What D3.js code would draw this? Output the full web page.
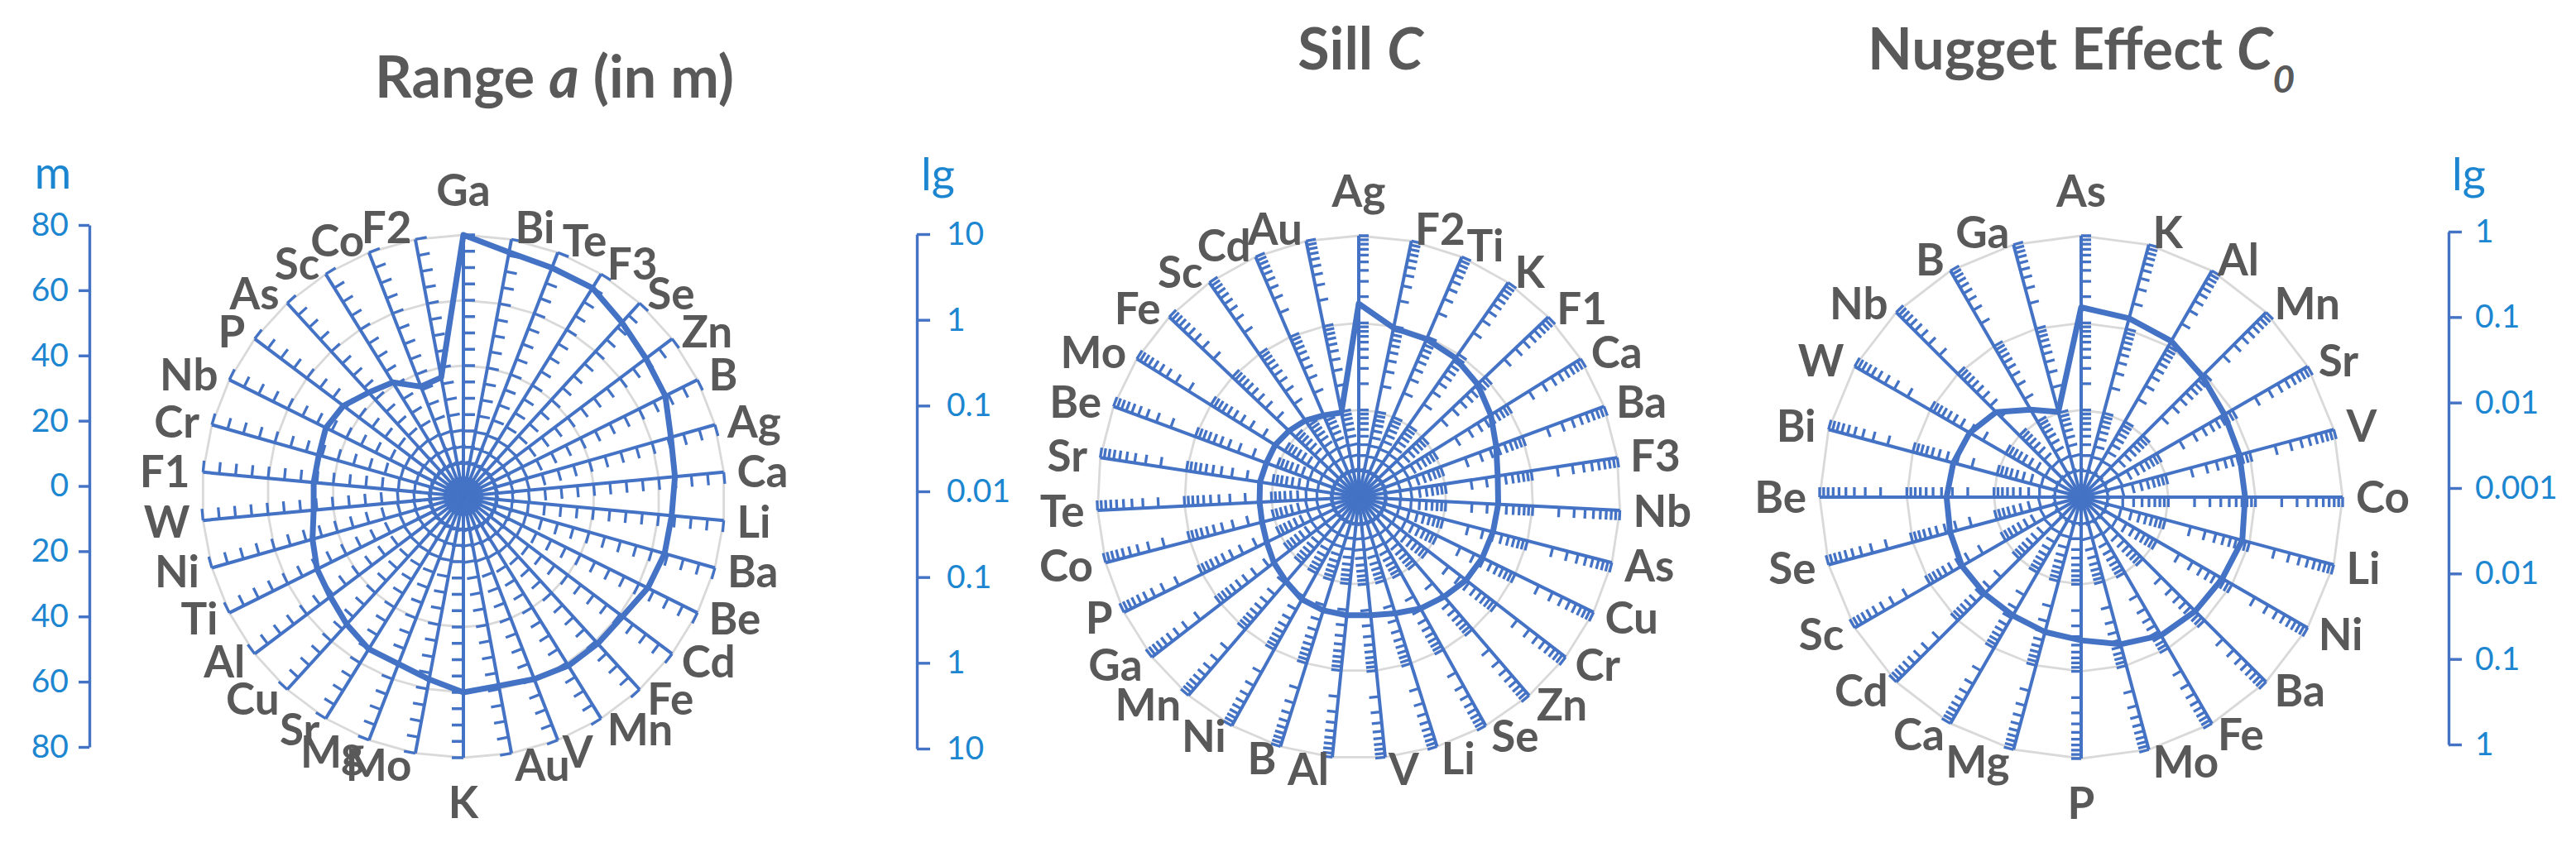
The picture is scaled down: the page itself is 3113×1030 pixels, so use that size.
<!DOCTYPE html>
<html><head><meta charset="utf-8">
<script src="https://cdn.jsdelivr.net/npm/d3@7"></script>
<style>body{margin:0;background:#fff}svg{display:block}</style>
</head><body><svg id="c" width="3113" height="1030"></svg>
<script>
// ---------- DATA ----------
const rangeCats = ["Ga","Bi","Te","F3","Se","Zn","B","Ag","Ca","Li","Ba","Be","Cd","Fe","Mn","V","Au","K","Mo","Mg","Sr","Cu","Al","Ti","Ni","W","F1","Cr","Nb","P","As","Sc","Co","F2"];
const rangeVals = [80,76,75,75,72,70,69,66,65,64,64,63,61,61,61,60,59,60,57,55,55,53,51,50,48,46,46,46,47,46,43,41,36,37];
const rangeAxisLabels = ["80","60","40","20","0","20","40","60","80"];

const sillCats = ["Ag","F2","Ti","K","F1","Ca","Ba","F3","Nb","As","Cu","Cr","Zn","Se","Li","V","Al","B","Ni","Mn","Ga","P","Co","Te","Sr","Be","Mo","Fe","Sc","Cd","Au"];
const sillVals = [1.66,0.96,0.94,0.88,0.76,0.61,0.48,0.41,0.40,0.39,0.38,0.36,0.32,0.29,0.25,0.23,0.23,0.23,0.22,0.19,0.17,0.15,0.14,0.138,0.14,0.135,0.135,0.127,0.118,0.105,0.098];
const sillAxisLabels = ["10","1","0.1","0.01","0.1","1","10"];

const nuggetCats = ["As","K","Al","Mn","Sr","V","Co","Li","Ni","Ba","Fe","Mo","P","Mg","Ca","Cd","Sc","Se","Be","Bi","W","Nb","B","Ga"];
const nuggetVals = [0.151,0.133,0.117,0.092,0.079,0.076,0.076,0.082,0.074,0.071,0.068,0.056,0.044,0.040,0.037,0.037,0.038,0.036,0.035,0.033,0.030,0.024,0.0144,0.0103];
const nuggetAxisLabels = ["1","0.1","0.01","0.001","0.01","0.1","1"];

// ---------- STYLE ----------
const W = 3113, H = 1030;
const BLUE = "#4472C4", GRID = "#D9D9D9", TEXT = "#595959", AXTXT = "#1D86D0";
const FONT = "Lato, 'Open Sans', sans-serif";
const R = 316;

const svg = d3.select("#c");
svg.append("rect").attr("width", W).attr("height", H).attr("fill", "#fff");

function radar(cfg) {
  const g = svg.append("g").attr("transform", `translate(${cfg.cx},${cfg.cy})`);
  const n = cfg.cats.length;
  const ang = d3.scaleLinear().domain([0, n]).range([0, 2 * Math.PI]);
  const r = cfg.scale;
  const pt = (i, rad) => [rad * Math.sin(ang(i)), -rad * Math.cos(ang(i))];

  // gridlines (polygons)
  cfg.grid.forEach(v => {
    g.append("path")
      .attr("d", d3.line()(d3.range(n).map(i => pt(i, r(v)))) + "Z")
      .attr("fill", "none").attr("stroke", GRID).attr("stroke-width", 2.8);
  });

  // spokes
  g.append("g").selectAll("line").data(d3.range(n)).join("line")
    .attr("x1", 0).attr("y1", 0)
    .attr("x2", i => pt(i, R)[0]).attr("y2", i => pt(i, R)[1])
    .attr("stroke", BLUE).attr("stroke-width", 4);

  // ticks on every spoke (clockwise side)
  const L = cfg.tickLen;
  let d = "";
  d3.range(n).forEach(i => {
    const a = ang(i), tx = Math.cos(a), ty = Math.sin(a);
    cfg.ticks.forEach(t => {
      const [x, y] = pt(i, r(t));
      d += `M${x.toFixed(2)},${y.toFixed(2)}L${(x + L * tx).toFixed(2)},${(y + L * ty).toFixed(2)}`;
    });
  });
  g.append("path").attr("d", d).attr("stroke", BLUE).attr("stroke-width", 3.3).attr("fill", "none");

  // data line
  g.append("path")
    .attr("d", d3.line()(cfg.vals.map((v, i) => pt(i, r(v)))) + "Z")
    .attr("fill", "none").attr("stroke", BLUE).attr("stroke-width", 7)
    .attr("stroke-linejoin", "round");

  // category labels (Excel-like placement next to spoke ends)
  const fs = 53;
  cfg.cats.forEach((c, i) => {
    const a = ang(i), s = Math.sin(a), co = Math.cos(a);
    const [px, py] = pt(i, R);
    const t = g.append("text").text(c)
      .attr("font-family", FONT).attr("font-size", fs).attr("font-weight", 700)
      .attr("fill", TEXT).attr("dy", "0.36em");
    if (Math.abs(s) < 0.02) {
      t.attr("text-anchor", "middle").attr("x", px).attr("y", py - co * 54);
    } else {
      const gx = 4 + 12 * s * s;
      t.attr("text-anchor", s > 0 ? "start" : "end")
        .attr("x", px + (s > 0 ? gx : -gx)).attr("y", py - co * 15);
    }
  });
}

radar({cx: 560, cy: 600, cats: rangeCats, vals: rangeVals,
  scale: d3.scaleLinear().domain([0, 80]).range([0, R]),
  grid: [20, 40, 60, 80], ticks: d3.range(5, 81, 5), tickLen: 14});

const sillScale = d3.scaleLog().domain([0.01, 10]).range([0, R]);
radar({cx: 1642, cy: 601, cats: sillCats, vals: sillVals, scale: sillScale,
  grid: [0.1, 1, 10], ticks: sillScale.ticks().filter(t => t > 0.0100001), tickLen: 12});

const nugScale = d3.scaleLog().domain([0.001, 1]).range([0, R]);
radar({cx: 2515, cy: 601, cats: nuggetCats, vals: nuggetVals, scale: nugScale,
  grid: [0.01, 0.1, 1], ticks: nugScale.ticks().filter(t => t > 0.0010001), tickLen: 12});

// ---------- side axes ----------
function sideAxis(x, y0, y1, labels, orient, size, pad, unit, ux, uy, uanchor) {
  const s = d3.scalePoint().domain(d3.range(labels.length)).range([y0, y1]);
  const ax = (orient === "left" ? d3.axisLeft(s) : d3.axisRight(s))
    .tickSize(size).tickSizeOuter(0).tickPadding(pad).tickFormat(i => labels[i]);
  const g = svg.append("g").attr("transform", `translate(${x},0)`).call(ax);
  g.select(".domain").attr("stroke", BLUE).attr("stroke-width", 3.4);
  g.selectAll(".tick line").attr("stroke", BLUE).attr("stroke-width", 3.4);
  g.selectAll(".tick text").attr("fill", AXTXT).attr("font-family", FONT).attr("font-size", 39);
  svg.append("text").attr("x", ux).attr("y", uy).attr("text-anchor", uanchor)
    .attr("font-family", FONT).attr("font-size", 54).attr("fill", AXTXT).text(unit);
}
sideAxis(108, 272, 903, rangeAxisLabels, "left", 13, 12, "m", 64, 228, "middle");
sideAxis(1108, 283, 905, sillAxisLabels, "right", 16, 20, "lg", 1113, 230, "start");
sideAxis(2959, 280, 900, nuggetAxisLabels, "right", 16, 16, "lg", 2963, 230, "start");

// ---------- titles ----------
function title(parts, cx, y) {
  const t = svg.append("text").attr("x", cx).attr("y", y).attr("text-anchor", "middle")
    .attr("font-family", FONT).attr("font-weight", 700).attr("font-size", 70).attr("fill", TEXT);
  parts.forEach(p => {
    const s = t.append("tspan").text(p.t);
    if (p.i) s.attr("font-style", "italic");
    if (p.sub) s.attr("font-size", 46).attr("baseline-shift", "sub");
  });
  return t;
}
title([{t: "Range "}, {t: "a", i: 1}, {t: " (in m)"}], 670, 118);
title([{t: "Sill "}, {t: "C", i: 1}], 1644, 84);
title([{t: "Nugget Effect "}, {t: "C", i: 1}, {t: "0", i: 1, sub: 1}], 2515, 84);
</script></body></html>
